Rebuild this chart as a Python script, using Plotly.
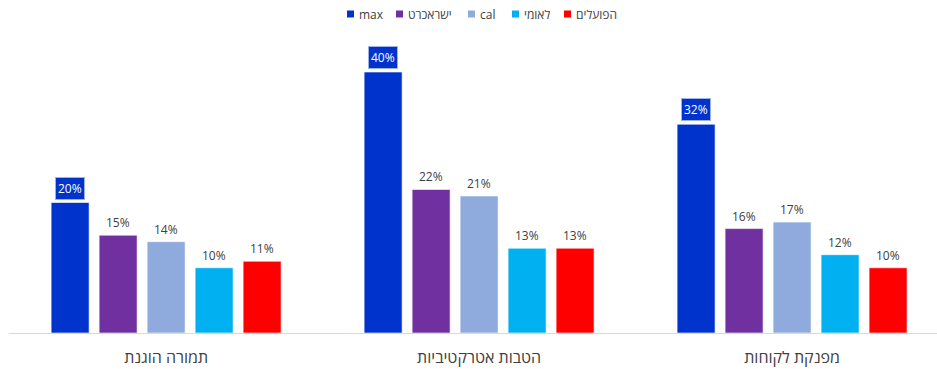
import plotly.graph_objects as go

categories = ["תמורה הוגנת", "הטבות אטרקטיביות", "מפנקת לקוחות"]
series_names = ["max", "ישראכרט", "cal", "לאומי", "הפועלים"]
series_values = [
    [20, 40, 32],
    [15, 22, 16],
    [14, 21, 17],
    [10, 13, 12],
    [11, 13, 10],
]
series_colors = ["#0033CC", "#7030A0", "#8FAADC", "#00B0F0", "#FF0000"]

FONT = "Open Sans, DejaVu Sans, sans-serif"
W, H = 937, 369
ML, MR, MT, MB = 9, 0, 30, 36
PW, PH = W - ML - MR, H - MT - MB
step = 48 / 313
bw = 38 / 313
n = len(series_names)


def px_x(px):
    return (px - ML) / PW


def px_y(py):
    return (H - MB - py) / PH


fig = go.Figure()
annotations = []
shapes = []
for i, (name, vals, col) in enumerate(zip(series_names, series_values, series_colors)):
    off = (i - (n - 1) / 2) * step
    fig.add_trace(go.Bar(
        name=name,
        x=list(range(len(categories))),
        y=vals,
        width=bw,
        offset=off - bw / 2,
        marker=dict(color=col, line=dict(color="rgba(255,255,255,0.6)", width=1)),
        hoverinfo="skip",
        showlegend=False,
    ))
    for j, v in enumerate(vals):
        if i == 0:
            annotations.append(dict(
                x=j + off, y=v, xref="x", yref="y", text=f"{v}%",
                showarrow=False, yanchor="bottom", yshift=3,
                font=dict(family=FONT, size=12, color="#FFFFFF"),
                bgcolor="#0033CC", bordercolor="#9DB2E8", borderwidth=1, borderpad=2,
            ))
        else:
            annotations.append(dict(
                x=j + off, y=v, xref="x", yref="y", text=f"{v}%",
                showarrow=False, yanchor="bottom", yshift=2,
                font=dict(family=FONT, size=12, color="#404040"),
            ))

# custom compact legend (layout positions in pixels)
legend_marker_px = [347, 396, 468, 512, 564]
legend_y = 14
for name, col, mx in zip(series_names, series_colors, legend_marker_px):
    shapes.append(dict(
        type="rect", xref="paper", yref="paper",
        x0=px_x(mx), x1=px_x(mx + 7), y0=px_y(legend_y + 3.5), y1=px_y(legend_y - 3.5),
        fillcolor=col, line=dict(width=0),
    ))
    annotations.append(dict(
        x=px_x(mx + 10), y=px_y(legend_y), xref="paper", yref="paper",
        text=name, showarrow=False, xanchor="left", yanchor="middle",
        font=dict(family=FONT, size=12, color="#404040"),
    ))

fig.update_layout(
    width=W, height=H,
    margin=dict(l=ML, r=MR, t=MT, b=MB),
    paper_bgcolor="white", plot_bgcolor="white",
    showlegend=False,
    annotations=annotations,
    shapes=shapes,
    xaxis=dict(
        tickmode="array", tickvals=list(range(len(categories))), ticktext=categories,
        range=[-0.502, 2.463], showgrid=False, zeroline=False,
        showline=True, linecolor="#D9D9D9", linewidth=1,
        tickfont=dict(family=FONT, size=16, color="#404040"),
        ticks="", ticklen=0, ticklabelstandoff=10,
    ),
    yaxis=dict(range=[0, PH / 6.525], visible=False, showgrid=False, zeroline=False),
    font=dict(family=FONT),
)

fig.write_html("out.html")
